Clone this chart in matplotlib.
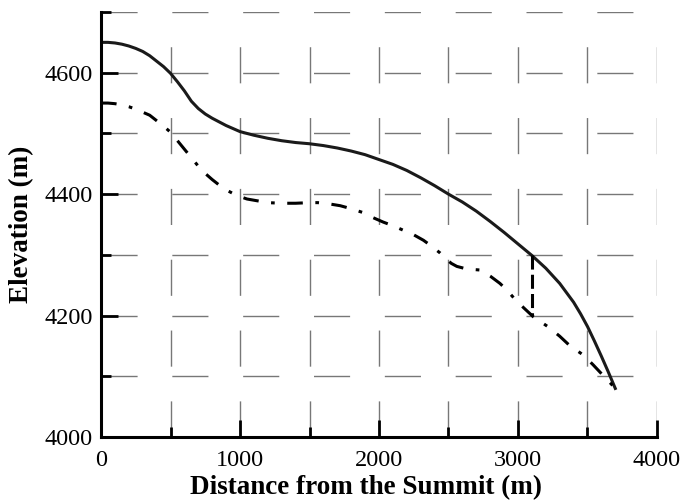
import matplotlib
matplotlib.use("Agg")
import matplotlib.pyplot as plt
from matplotlib.ticker import MultipleLocator

# elevation profiles along the descent route
dist_upper = [0, 50, 100, 150, 200, 250, 300, 350, 400, 450, 500, 550, 600, 650,
              700, 750, 800, 850, 900, 950, 1000, 1100, 1200, 1300, 1400, 1500,
              1600, 1700, 1800, 1900, 2000, 2100, 2200, 2300, 2400, 2500, 2600,
              2700, 2800, 2900, 3000, 3100, 3200, 3300, 3400, 3450, 3500, 3550,
              3600, 3650, 3700]
elev_upper = [4650, 4650, 4649, 4647, 4644, 4640, 4635, 4628, 4619, 4610, 4599,
              4585, 4570, 4553, 4541, 4532, 4525, 4519, 4513, 4508, 4503, 4497,
              4492, 4488, 4485, 4483, 4480, 4476, 4471, 4465, 4457, 4449, 4439,
              4427, 4414, 4400, 4387, 4372, 4355, 4337, 4318, 4299, 4278, 4253,
              4222, 4203, 4182, 4158, 4133, 4107, 4080]

dist_lower = [0, 50, 100, 150, 200, 250, 300, 350, 400, 450, 500, 550, 600, 650,
              700, 750, 800, 850, 900, 950, 1000, 1050, 1100, 1200, 1300, 1400,
              1500, 1560, 1640, 1720, 1800, 1880, 1950, 2030, 2100, 2180, 2250,
              2320, 2380, 2440, 2480, 2520, 2560, 2610, 2670, 2730, 2800, 2870,
              2920, 2970, 3040, 3110, 3220, 3300, 3370, 3470, 3540, 3610, 3660,
              3700]
elev_lower = [4550, 4550, 4549, 4547, 4544, 4540, 4535, 4530, 4521, 4512, 4502,
              4488, 4474, 4460, 4446, 4434, 4424, 4415, 4407, 4401, 4396, 4392,
              4390, 4386, 4385, 4385, 4386, 4386, 4384, 4381, 4376, 4370, 4362,
              4354, 4348, 4340, 4333, 4324, 4314, 4303, 4294, 4286, 4281, 4278,
              4276, 4275, 4265, 4253, 4242, 4229, 4213, 4198, 4181, 4166, 4151,
              4135, 4119, 4102, 4090, 4080]

# drop between the two profiles
dist_drop = [3100, 3100]
elev_drop = [4300, 4200]

plt.rcParams['font.family'] = ['Liberation Serif', 'DejaVu Serif']

fig = plt.figure(figsize=(6.84, 5.0), dpi=100)
ax = fig.add_axes([0.1477, 0.126, 0.8128, 0.85])

ax.plot(dist_upper, elev_upper, color='#1a1a1a', lw=2.2, zorder=4,
        solid_joinstyle='round')
ax.plot(dist_lower, elev_lower, color='#000000', lw=2.2,
        linestyle=(0, (5.1, 4.1, 1.2, 4.1)), zorder=4)
ax.plot(dist_drop, elev_drop, color='#000000', lw=2.2,
        linestyle=(0, (4.6, 1.7)), zorder=4)

ax.set_xlim(0, 4000)
ax.set_ylim(4000, 4700)

ax.xaxis.set_major_locator(MultipleLocator(1000))
ax.xaxis.set_minor_locator(MultipleLocator(500))
ax.yaxis.set_major_locator(MultipleLocator(200))
ax.yaxis.set_minor_locator(MultipleLocator(100))

ax.grid(which='both', color='#777777', lw=1.0, linestyle=(0, (26, 25)), zorder=1)
ax.set_axisbelow(True)

for side in ['top', 'right']:
  ax.spines[side].set_visible(False)
for side in ['left', 'bottom']:
  ax.spines[side].set_linewidth(2.2)
  ax.spines[side].set_zorder(5)

ax.tick_params(which='both', direction='in', width=2.0, top=False, right=False)
ax.tick_params(which='major', length=12, labelsize=17.5)
ax.tick_params(axis='x', which='major', pad=9)
ax.tick_params(axis='y', which='major', pad=6)
ax.tick_params(which='minor', length=7)

ax.set_xlabel('Distance from the Summit (m)', fontsize=19.5, fontweight='bold')
ax.set_ylabel('Elevation (m)', fontsize=19.5, fontweight='bold')
ax.xaxis.set_label_coords(0.477, -0.09)
ax.yaxis.set_label_coords(-0.12, 0.5)

fig.savefig('out.png', dpi=100)
